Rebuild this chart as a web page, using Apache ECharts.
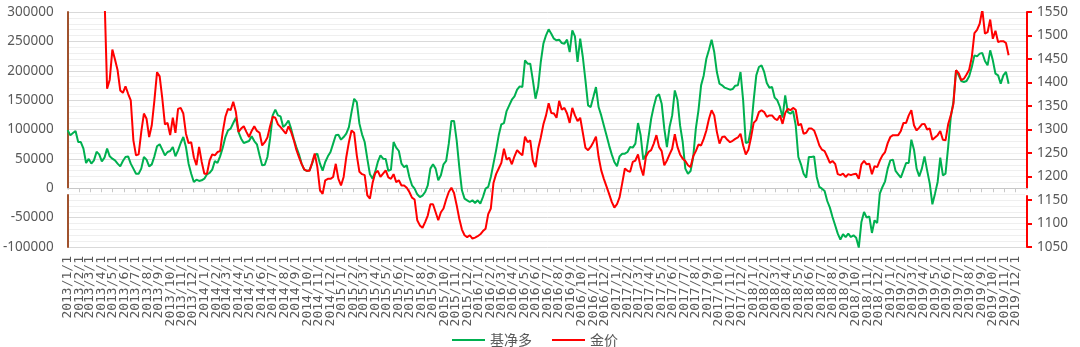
<!DOCTYPE html>
<html>
<head>
<meta charset="utf-8">
<script src="https://cdn.jsdelivr.net/npm/echarts@6/dist/echarts.min.js"></script>
<style>html,body{margin:0;padding:0;background:#fff}#c{width:1080px;height:347px}</style>
</head>
<body>
<div id="c"></div>
<script>
// ---- data ----
const firstWeek = [2013, 0, 1];          // first weekly observation (Tuesday 2013/1/1)
const axisStart = '2013-01-01';
const axisEnd = '2019-12-31';
const seriesNames = ['基净多', '金价'];

const netLong = [
98600,90000,94000,97500,78700,78700,67400,43000,50000,42000,
47500,62000,57700,45800,52000,67400,54300,50300,47500,41900,
37300,46400,53200,54300,41900,33400,24800,24800,33400,53200,
48700,37300,40700,54300,71400,74800,65700,56000,61700,63400,
70200,54300,64500,77000,87200,70200,41900,24800,10600,14600,
12400,13500,16300,23700,26000,31700,46400,43000,54300,69100,
87200,98600,101400,111000,120100,95700,84300,77000,78700,80400,
88400,80400,74800,56000,38900,40000,53200,84300,124000,133800,
124000,122300,104100,108600,115400,101400,84300,70200,57700,41900,
31700,29400,30500,41900,56000,58800,41900,30000,44700,54300,
61700,75900,90100,91200,82700,87200,92900,104100,129600,152300,
146600,110000,
91800,78700,50300,23700,16300,27700,44700,56000,50300,49800,
29400,31700,78700,69100,63400,41900,36100,39000,19200,5000,
-700,-10300,-14900,-12600,-6400,5000,33400,40700,33400,13500,
22000,40700,46400,75900,114500,114500,81600,36100,-3500,-17700,
-20500,-23400,-20500,-25000,-20500,-26200,-14900,-700,2200,19200,
41900,64500,90100,108800,111000,131400,141000,150700,156300,167700,
173400,172300,217700,212100,212100,183700,152500,172300,214900,246100,
260300,270500,263100,254600,251800,252900,247200,246100,252900,231900,
268800,258600,214900,254600,223400,183700,141000,138200,155200,172300,
138200,124000,107000,90100,73000,57700,44700,37300,54300,58800,
58800,61700,70200,69100,75900,111000,90100,48700,57700,87200,
118300,139300,156300,159800,143900,101400,70200,104100,124000,166500,
150700,107000,78700,33400,24800,29400,53200,101400,132600,175100,
192100,220500,235800,252900,231900,197800,177900,
175200,171200,169500,167800,168900,174600,175200,197900,149700,77100,
78700,101400,149700,192200,206400,209200,197900,179200,171200,172300,
154200,149700,138300,120200,158200,129700,126800,131400,107000,53200,
40700,24800,18000,53200,53200,54300,19200,2200,-700,-4700,
-21700,-33000,-48900,-63100,-77300,-87500,-78400,-83000,-77300,-83000,
-80100,-84100,-101000,-57400,-40400,-50000,-47800,-76100,-54600,-59200,
-9200,2200,11800,33400,47500,48700,29400,23700,18000,30500,
43000,43000,82700,65700,33400,20300,33400,54300,30500,7800,
-27400,-9200,10700,52100,22000,24800,70200,121300,146800,200700,
192200,182500,180800,182500,190500,206400,226200,224500,229100,230200,
216600,209200,234700,217700,195000,192200,178000,192200,197900,178000
];

const goldPrice = [
1675,1656,1683,1692,1662,1673,1648,1604,1594,1574,
1591,1605,1596,1575,1586,1387,1406,1470,1449,1426,
1383,1378,1392,1376,1362,1277,1245,1247,1295,1334,
1323,1284,1309,1362,1422,1413,1366,1311,1314,1288,
1325,1293,1344,1346,1334,1291,1271,1273,1241,1224,
1263,1231,1206,1206,1234,1247,1245,1252,1254,1295,
1327,1344,1341,1359,1337,1295,1302,1307,1295,1284,
1297,1307,1297,1293,1266,1273,1283,1307,1327,1325,
1311,1305,1298,1291,1307,1295,1278,1257,1241,1227,
1215,1212,1212,1229,1249,1220,1171,1163,1192,1195,
1195,1199,1227,1195,1181,1199,1241,1273,1298,1293,
1245,1210,
1205,1203,1160,1153,1186,1207,1212,1199,1206,1213,
1198,1195,1205,1188,1192,1181,1181,1176,1167,1155,
1151,1107,1096,1091,1103,1117,1141,1141,1124,1107,
1124,1132,1151,1167,1176,1165,1139,1110,1087,1075,
1071,1075,1068,1070,1073,1077,1084,1089,1120,1132,
1186,1205,1217,1229,1259,1236,1240,1226,1243,1256,
1250,1245,1285,1273,1277,1234,1220,1259,1283,1311,
1330,1356,1335,1334,1325,1361,1342,1346,1334,1314,
1346,1330,1318,1325,1293,1261,1256,1263,1273,1285,
1242,1213,1195,1179,1163,1146,1134,1141,1156,1186,
1217,1212,1210,1231,1234,1247,1220,1202,1242,1252,
1256,1270,1288,1263,1254,1224,1234,1247,1259,1290,
1263,1247,1238,1233,1224,1220,1243,1254,1268,1266,
1280,1298,1323,1341,1330,1295,1270,
1284,1285,1278,1273,1276,1280,1283,1291,1266,1247,
1257,1283,1314,1320,1337,1341,1337,1327,1330,1330,
1323,1320,1330,1312,1335,1344,1341,1346,1342,1309,
1312,1291,1293,1302,1302,1298,1283,1266,1257,1254,
1242,1229,1233,1227,1205,1203,1206,1199,1205,1203,
1205,1206,1195,1226,1233,1226,1227,1205,1222,1220,
1234,1245,1252,1271,1284,1288,1288,1288,1297,1314,
1314,1330,1341,1309,1298,1304,1311,1312,1300,1302,
1278,1283,1288,1297,1278,1277,1311,1330,1354,1426,
1420,1405,1408,1417,1427,1454,1505,1512,1525,1555,
1504,1507,1534,1493,1510,1486,1488,1488,1484,1458
];

const leftAxis = { min: -100000, max: 300000, interval: 50000 };
const rightAxis = { min: 1050, max: 1550, interval: 50 };

// weekly category dates
const weekDates = netLong.map((_, i) => new Date(firstWeek[0], firstWeek[1], firstWeek[2] + 7 * i).getTime());

const DAY = 86400000;
function monthLabel(v) {
  const d = new Date(v);
  if (d.getDate() !== 1) return '';
  return d.getFullYear() + '/' + (d.getMonth() + 1) + '/1';
}
const plainNumber = v => String(v);

const chart = echarts.init(document.getElementById('c'), null, { renderer: 'canvas' });
const labelColor = '#595959';
const timeCommon = {
  type: 'time', min: axisStart, max: axisEnd,
  splitNumber: 84, minInterval: 28 * DAY, maxInterval: 31 * DAY,
  splitLine: { show: false }
};
chart.setOption({
  animation: false,
  backgroundColor: '#fff',
  grid: { left: 67, right: 53, top: 12, bottom: 100, containLabel: false },
  legend: {
    left: 447, top: 328,
    icon: 'rect', itemWidth: 33, itemHeight: 2, itemGap: 20,
    textStyle: { fontFamily: 'Noto Sans CJK SC', fontSize: 14, color: labelColor },
    data: seriesNames
  },
  xAxis: [
    Object.assign({}, timeCommon, {
      position: 'bottom',
      axisLine: { show: true, onZero: true, lineStyle: { color: '#c8c8c8', width: 1 } },
      axisTick: { show: true, length: 4, lineStyle: { color: '#c8c8c8' } },
      axisLabel: { show: false }
    }),
    Object.assign({}, timeCommon, {
      position: 'bottom',
      axisLine: { show: false, onZero: false },
      axisTick: { show: false },
      axisLabel: {
        show: true, rotate: 90, margin: 9, color: labelColor,
        fontFamily: 'DejaVu Sans Mono', fontSize: 13,
        formatter: monthLabel, hideOverlap: false
      }
    })
  ],
  yAxis: [
    {
      type: 'value', position: 'left',
      min: leftAxis.min, max: leftAxis.max, interval: leftAxis.interval,
      axisLine: { show: true, lineStyle: { color: '#A0522D', width: 2 } },
      axisTick: { show: false },
      axisLabel: { color: labelColor, fontFamily: 'Noto Sans', fontSize: 13.5, margin: 14, formatter: plainNumber },
      splitLine: { show: true, lineStyle: { color: '#d9d9d9', width: 1 } },
      minorTick: { show: false, splitNumber: 5 },
      minorSplitLine: { show: true, lineStyle: { color: '#efefef', width: 1 } }
    },
    {
      type: 'value', position: 'right',
      min: rightAxis.min, max: rightAxis.max, interval: rightAxis.interval,
      axisLine: { show: true, lineStyle: { color: '#ff0000', width: 2 } },
      axisTick: { show: true, inside: false, length: 5, lineStyle: { color: '#ff0000', width: 2 } },
      axisLabel: { color: labelColor, fontFamily: 'Noto Sans', fontSize: 13.5, margin: 10, formatter: plainNumber },
      splitLine: { show: false }
    }
  ],
  series: [
    {
      name: seriesNames[0], type: 'line', xAxisIndex: 0, yAxisIndex: 0,
      data: netLong.map((v, i) => [weekDates[i], v]),
      showSymbol: false, symbol: 'none', clip: true,
      lineStyle: { color: '#00B050', width: 2 }, itemStyle: { color: '#00B050' }
    },
    {
      name: seriesNames[1], type: 'line', xAxisIndex: 0, yAxisIndex: 1,
      data: goldPrice.map((v, i) => [weekDates[i], v]),
      showSymbol: false, symbol: 'none', clip: true,
      lineStyle: { color: '#ff0000', width: 2 }, itemStyle: { color: '#ff0000' }
    }
  ]
});

// small white break in both value-axis lines where the zero category axis crosses them
const y0 = chart.convertToPixel({ yAxisIndex: 0 }, 0);
const xL = chart.convertToPixel({ xAxisIndex: 0 }, axisStart);
const xR = chart.convertToPixel({ xAxisIndex: 0 }, axisEnd);
chart.setOption({
  graphic: [
    { type: 'rect', z: 100, shape: { x: xL - 2, y: y0 + 1, width: 4, height: 5 }, style: { fill: '#fff' } },
    { type: 'rect', z: 100, shape: { x: xR - 2, y: y0 + 1, width: 4, height: 6 }, style: { fill: '#fff' } }
  ]
});
</script>
</body>
</html>
